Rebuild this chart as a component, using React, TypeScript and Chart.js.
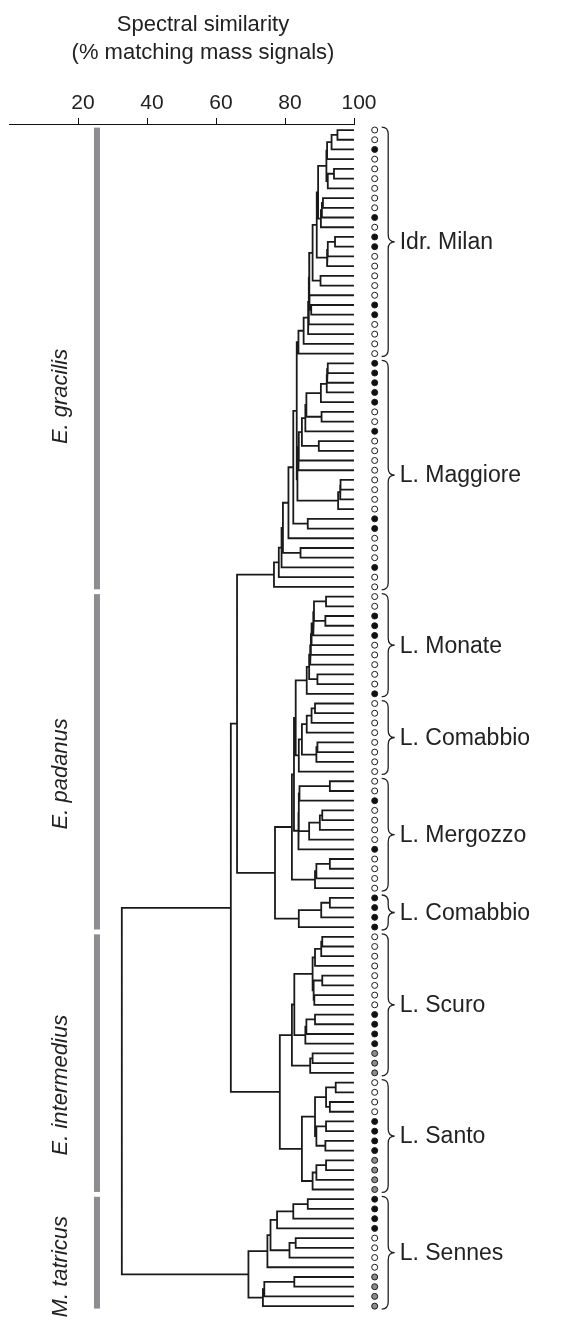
import React, { useEffect, useRef } from "react";
import { Chart, registerables } from "chart.js";

Chart.register(...registerables);

const FONT = '"Liberation Sans", Arial, Helvetica, sans-serif';

// ---------- data ----------
const xTicks = [20, 40, 60, 80, 100];
const titleLines = ["Spectral similarity", "(% matching mass signals)"];

const groupLabels = [
  "Idr. Milan",
  "L. Maggiore",
  "L. Monate",
  "L. Comabbio",
  "L. Mergozzo",
  "L. Comabbio",
  "L. Scuro",
  "L. Santo",
  "L. Sennes",
];
const groupSizes = [24, 24, 11, 8, 12, 4, 15, 12, 12];
// o = open circle, f = filled black, g = grey
const groupMarkers = [
  "oofoooooofoffoooooffoooo",
  "fffffoofooooooooffooofoo",
  "oofffooooof",
  "oooooooo",
  "oofoooofoooo",
  "ffff",
  "ooooooooffffggg",
  "ooooffffgggg",
  "ffffoooogggg",
];

const speciesLabels = ["E. gracilis", "E. padanus", "E. intermedius", "M. tatricus"];
const speciesSizes = [48, 35, 27, 12];

// Dendrogram (leaf index, merge similarity in % after each closing bracket)
const milanA = "((((0,1)95.2,2)93.5,3)92.2,((4,5)94.2,6)92.4)92.0";
const milanB = "(((7,8)91.0,9)90.7,10)90.4";
const milanC = "(((11,12)94.5,13)92.4,14)92.2";
const milanD = "(15,16)90.3";
const milanE = "(17,(18,19)87.6)87.1";
const milanTree = `((((((((${milanA},${milanB})89.6,${milanC})89.2,${milanD})88.0,${milanE})87.0,20)86.9,21)86.7,22)85.4,23)83.9`;

const magA = "((((24,25)92.4,26)92.2,27)92.1,28)90.4";
const magB = "(29,30)90.6";
const magAB = `((${magA},${magB})86.2,31)85.9`;
const magC = "(32,33)89.8";
const magUpper = `((((${magAB},${magC})84.9,34)84.0,35)83.9,(((36,37)96.1,38)96.0,39)95.4)83.6`;
const gracilisTree = `(((((((${milanTree},${magUpper})83.4,(40,41)86.6)82.4,42)81.0,(43,44)84.5)79.4,45)79.0,46)78.2,47)76.8`;

const monateCore = "(((48,49)91.9,(50,51)91.7)88.4,52)88.2";
const monateTree = `(((((${monateCore},53)87.7,54)87.5,55)87.3,(56,57)89.4)87.0,58)86.3`;
const comabbioTree = "(((((59,60)88.7,61)87.7,62)86.3,((63,64)89.4,65)89.1)84.9,66)84.0";
const mergozzoUpper = "((((67,68)93.0,69)84.2,(((70,71)90.8,72)90.1,73)87.0)84.0,74)83.9";
const mergozzoLower = "(((75,76)93.0,77)89.1,78)88.7";
const comabbio2Tree = "(((79,80)93.0,81)90.5,82)84.0";
const padanusTree = `((((${monateTree},${comabbioTree})83.1,${mergozzoUpper})82.6,${mergozzoLower})82.0,${comabbio2Tree})77.1`;

const scuro1 = "((((83,84)90.8,85)90.5,86)88.7,((87,88)90.8,(89,90)88.5)88.3)88.0";
const scuro2 = "(((91,92)88.7,93)86.2,94)85.9";
const scuro3 = "((95,96)88.0,97)87.3";
const scuroTree = `((${scuro1},${scuro2})82.7,${scuro3})82.0`;
const santoTree = "((((98,99)94.7,(100,101)93.0)91.9,((102,103)91.9,(104,105)91.7)89.1)88.7,(((106,107)91.9,108)89.1,109)88.0)84.9";
const intermediusTree = `(${scuroTree},${santoTree})78.5`;

const sennesA = "(((110,111)86.6,112)82.4,113)77.7";
const sennesB = "((114,115)83.1,116)81.3";
const sennesUpper = `((${sennesA},${sennesB})75.8,117)74.9`;
const sennesLower = "(((118,119)82.7,120)74.0,121)73.6";
const tatricusTree = `(${sennesUpper},${sennesLower})69.4`;

const fullTree = `(((${gracilisTree},${padanusTree})66.1,${intermediusTree})64.3,${tatricusTree})32.7`;

// ---------- helpers ----------
type TNode = { leaf?: number; kids?: TNode[]; h?: number };

function parseTree(src: string): TNode {
  const s = src.replace(/\s+/g, "");
  let i = 0;
  const num = () => {
    const j = i;
    while (i < s.length && /[0-9.]/.test(s[i])) i++;
    return parseFloat(s.slice(j, i));
  };
  const node = (): TNode => {
    if (s[i] === "(") {
      i++;
      const kids = [node()];
      while (s[i] === ",") {
        i++;
        kids.push(node());
      }
      i++; // ')'
      return { kids, h: num() };
    }
    return { leaf: num() };
  };
  return node();
}

type Pt = { x: number; y: number | null };

function layoutTree(n: TNode, out: Pt[]): { x: number; y: number } {
  if (n.kids === undefined) return { x: 100, y: n.leaf as number };
  const pos = n.kids.map((k) => layoutTree(k, out));
  const h = n.h as number;
  const first = pos[0];
  const last = pos[pos.length - 1];
  out.push(
    { x: first.x, y: first.y },
    { x: h, y: first.y },
    { x: h, y: last.y },
    { x: last.x, y: last.y },
    { x: NaN, y: null }
  );
  for (let k = 1; k < pos.length - 1; k++) {
    out.push({ x: pos[k].x, y: pos[k].y }, { x: h, y: pos[k].y }, { x: NaN, y: null });
  }
  return { x: h, y: (first.y + last.y) / 2 };
}

function drawBrace(ctx: CanvasRenderingContext2D, x0: number, yTop: number, yBot: number, w: number) {
  const xm = x0 + w * 0.5;
  const xt = x0 + w;
  const ym = (yTop + yBot) / 2;
  const r = Math.min(7, (yBot - yTop) / 4);
  ctx.beginPath();
  ctx.moveTo(x0, yTop);
  ctx.quadraticCurveTo(xm, yTop, xm, yTop + r);
  ctx.lineTo(xm, ym - r);
  ctx.quadraticCurveTo(xm, ym, xt, ym);
  ctx.quadraticCurveTo(xm, ym, xm, ym + r);
  ctx.lineTo(xm, yBot - r);
  ctx.quadraticCurveTo(xm, yBot, x0, yBot);
  ctx.stroke();
}

const markerX = 106;
const markerFill: Record<string, string> = { o: "#ffffff", f: "#111111", g: "#8c8c8c" };

const decorPlugin = {
  id: "decor",
  afterDatasetsDraw(chart: any) {
    const { ctx } = chart;
    const xs = chart.scales.x;
    const ys = chart.scales.y;
    ctx.save();
    ctx.fillStyle = "#222";
    ctx.strokeStyle = "#222";

    // title
    ctx.font = `22px ${FONT}`;
    ctx.textAlign = "center";
    ctx.textBaseline = "alphabetic";
    ctx.fillText(titleLines[0], 203, 31);
    ctx.fillText(titleLines[1], 203, 59);

    // leaf markers (circles right of the 100 % line)
    const mx = xs.getPixelForValue(markerX);
    let leaf = 0;
    ctx.lineWidth = 1;
    groupMarkers.forEach((m) => {
      for (const c of m) {
        const py = ys.getPixelForValue(leaf);
        ctx.beginPath();
        ctx.arc(mx, py, 3, 0, Math.PI * 2);
        ctx.fillStyle = markerFill[c];
        ctx.fill();
        ctx.strokeStyle = "#1a1a1a";
        ctx.stroke();
        leaf++;
      }
    });

    // braces + group labels
    ctx.fillStyle = "#222";
    ctx.strokeStyle = "#222";
    let start = 0;
    ctx.lineWidth = 1.3;
    groupSizes.forEach((n, gi) => {
      const yTop = ys.getPixelForValue(start - 0.3);
      const yBot = ys.getPixelForValue(start + n - 1 + 0.3);
      const x0 = mx + 7;
      drawBrace(ctx, x0, yTop, yBot, 13);
      ctx.font = `23px ${FONT}`;
      ctx.textAlign = "left";
      ctx.textBaseline = "middle";
      ctx.fillText(groupLabels[gi], x0 + 18, (yTop + yBot) / 2 + 1);
      start += n;
    });

    // species bars + labels
    const labelShift = [38, 12, 22, 14];
    const barX = xs.getPixelForValue(25.5);
    start = 0;
    speciesSizes.forEach((n, si) => {
      const yTop = ys.getPixelForValue(start - 0.25);
      const yBot = ys.getPixelForValue(start + n - 1 + 0.25);
      ctx.fillStyle = "#8d8d91";
      ctx.fillRect(barX - 3, yTop, 6, yBot - yTop);
      ctx.save();
      ctx.translate(61, (yTop + yBot) / 2 + labelShift[si]);
      ctx.rotate(-Math.PI / 2);
      ctx.fillStyle = "#222";
      ctx.font = `italic 22px ${FONT}`;
      ctx.textAlign = "center";
      ctx.textBaseline = "middle";
      ctx.fillText(speciesLabels[si], 0, 0);
      ctx.restore();
      start += n;
    });
    ctx.restore();
  },
};

export default function App() {
  const ref = useRef<HTMLCanvasElement | null>(null);

  useEffect(() => {
    if (!ref.current) return;
    const treePoints: Pt[] = [];
    layoutTree(parseTree(fullTree), treePoints);

    const chart = new Chart(ref.current, {
      type: "scatter",
      data: {
        datasets: [
          {
            data: treePoints as any,
            showLine: true,
            pointRadius: 0,
            pointHoverRadius: 0,
            borderColor: "#1a1a1a",
            borderWidth: 1.8,
            spanGaps: false,
            borderJoinStyle: "miter",
            borderCapStyle: "butt",
          } as any,
        ],
      },
      options: {
        responsive: false,
        animation: false,
        events: [],
        layout: { padding: { left: 9, right: 215, top: 0, bottom: 4 } },
        plugins: {
          legend: { display: false },
          tooltip: { enabled: false },
          title: { display: false },
        },
        scales: {
          x: {
            type: "linear",
            position: "top",
            min: 0,
            max: 100,
            afterBuildTicks: (s: any) => {
              s.ticks = xTicks.map((v) => ({ value: v }));
            },
            afterFit: (s: any) => {
              s.height = 124;
            },
            ticks: {
              font: { family: FONT, size: 21 },
              color: "#222",
              padding: 2,
              labelOffset: 5,
              maxRotation: 0,
              autoSkip: false,
            },
            grid: { drawOnChartArea: false, drawTicks: true, tickLength: 6, color: "#111", lineWidth: 1 },
            border: { display: true, color: "#111", width: 1 },
          },
          y: {
            type: "linear",
            display: false,
            reverse: true,
            min: -0.62,
            max: 122.22,
          },
        },
      } as any,
      plugins: [decorPlugin],
    });
    return () => chart.destroy();
  }, []);

  return (
    <div style={{ position: "absolute", left: 0, top: 0, width: 569, height: 1322, background: "#fff" }}>
      <canvas ref={ref} width={569} height={1322} style={{ display: "block" }} />
    </div>
  );
}
